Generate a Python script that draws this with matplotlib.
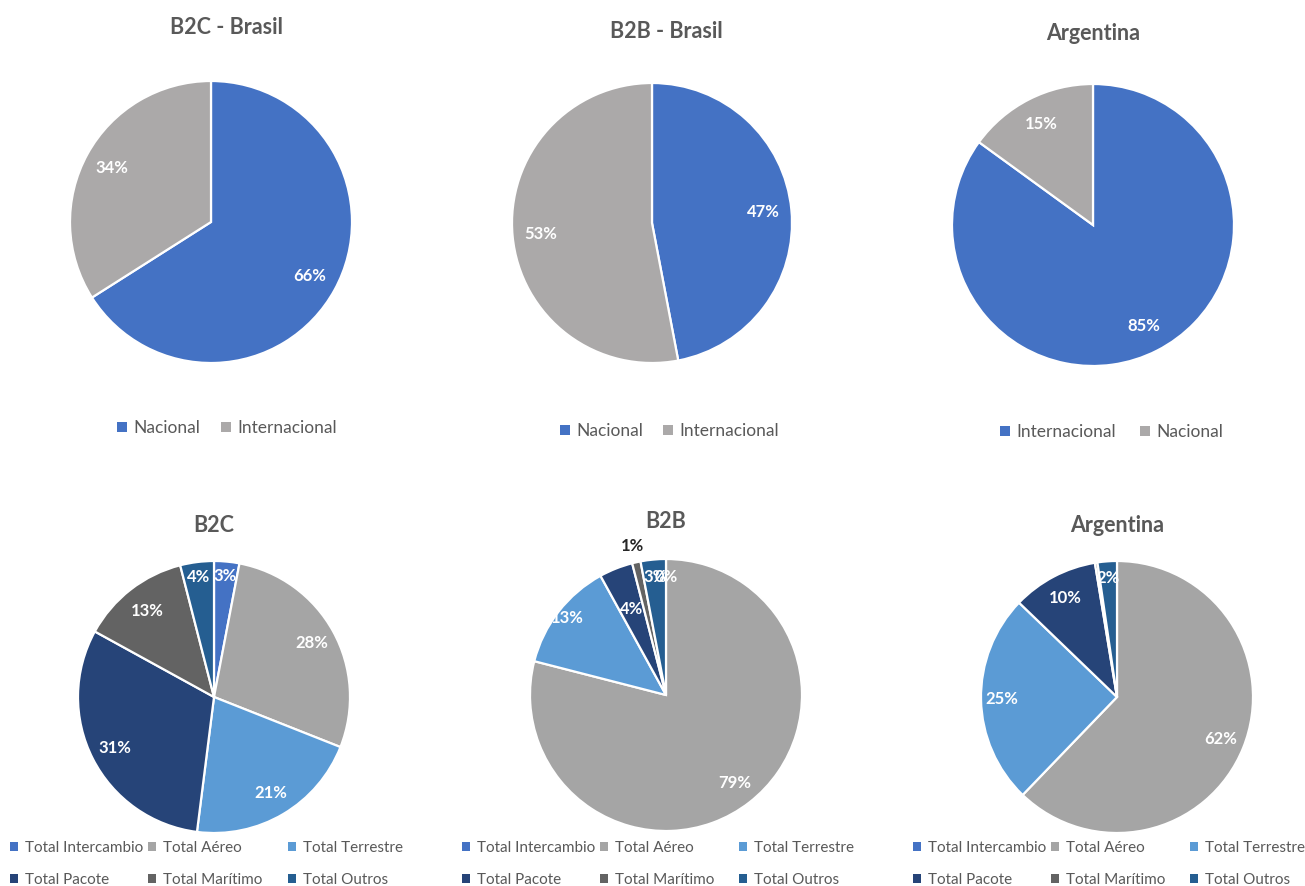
import matplotlib
matplotlib.use("Agg")
import matplotlib.pyplot as plt
import numpy as np
from matplotlib.patches import Patch

plt.rcParams["font.family"] = ["Lato", "DejaVu Sans"]

W, H = 1305, 886

# ---------------------------------------------------------------------------
# Data
# ---------------------------------------------------------------------------

TOP_TITLES = ["B2C - Brasil", "B2B - Brasil", "Argentina"]
TOP_LABELS = [
    ["Nacional", "Internacional"],
    ["Nacional", "Internacional"],
    ["Internacional", "Nacional"],
]
TOP_VALUES = [
    [66, 34],
    [47, 53],
    [85, 15],
]

BOTTOM_TITLES = ["B2C", "B2B", "Argentina"]
BOTTOM_LABELS = ["Total Intercambio", "Total Aéreo", "Total Terrestre",
                 "Total Pacote", "Total Marítimo", "Total Outros"]
B2C_VALUES = [3, 28, 21, 31, 13, 4]
B2B_VALUES = [0, 79, 13, 4, 1, 3]
ARG_VALUES = [0, 62.2, 25.0, 10.2, 0.3, 2.3]
# which slice percentages are written on the chart
B2C_SHOW = [True, True, True, True, True, True]
B2B_SHOW = [True, True, True, True, True, True]
ARG_SHOW = [False, True, True, True, False, True]

# ---------------------------------------------------------------------------
# Style
# ---------------------------------------------------------------------------

BLUE = "#4472C4"
GRAY = "#ABA9A9"
BOTTOM_COLORS = ["#4472C4", "#A5A5A5", "#5B9BD5", "#264478", "#636363", "#255E91"]
TEXT = "#595959"

TOP_CENTERS = [(211, 222, 141), (652, 223, 140), (1093, 225, 141)]
BOTTOM_CENTERS = [(214, 697, 136), (666, 695, 136), (1117, 697, 136)]

TOP_TITLE_POS = [(226, 28), (666, 31), (1093, 33)]
BOTTOM_TITLE_POS = [(214, 526), (666, 522), (1117, 526)]

TOP_LEGEND_POS = [
    [(117, 428), (221, 428)],
    [(560, 431), (663, 431)],
    [(1000, 432), (1140, 432)],
]
BOTTOM_LEGEND_X = [(10, 148, 288), (462, 600, 739), (913, 1051, 1190)]
BOTTOM_LEGEND_Y = (848, 880)

# label distance (fraction of radius) per slice
TOP_DIST = [[0.8, 0.8], [0.8, 0.8], [0.8, 0.8]]
BOTTOM_DIST = [
    [0.89, 0.82, 0.82, 0.82, 0.8, 0.89],
    [0.87, 0.82, 0.92, 0.68, 1.12, 0.87],
    [0.88, 0.82, 0.85, 0.82, 0.88, 0.88],
]


def px_axes(fig, cx, cy, r):
    ax = fig.add_axes([(cx - r) / W, 1 - (cy + r) / H, 2 * r / W, 2 * r / H])
    return ax


def draw_pie(ax, values, colors, dists, show):
    wedges, _ = ax.pie(
        values, colors=colors, startangle=90, counterclock=False, radius=1,
        wedgeprops=dict(edgecolor="white", linewidth=1.6),
    )
    ax.set_xlim(-1, 1)
    ax.set_ylim(-1, 1)
    ax.set_aspect("equal")
    ax.axis("off")
    total = float(sum(values))
    cum = 0.0
    for i, v in enumerate(values):
        mid = (cum + v / 2) / total * 2 * np.pi
        cum += v
        if not show[i]:
            continue
        d = dists[i]
        x, y = d * np.sin(mid), d * np.cos(mid)
        color = "#262626" if d > 1 else "white"
        ax.text(x, y, f"{v:.0f}%", ha="center", va="center",
                fontsize=12, fontweight="bold", color=color, clip_on=False)
    return wedges


def legend_entry(fig, color, label, x, y, fontsize):
    fig.legend(
        [Patch(facecolor=color, edgecolor="none")], [label],
        loc="center left", bbox_to_anchor=(x / W, 1 - y / H),
        frameon=False, handlelength=0.55, handleheight=0.55,
        handletextpad=0.4, borderpad=0, borderaxespad=0,
        fontsize=fontsize, labelcolor=TEXT,
    )


fig = plt.figure(figsize=(W / 100, H / 100), dpi=100)
fig.patch.set_facecolor("white")

for k in range(3):
    cx, cy, r = TOP_CENTERS[k]
    ax = px_axes(fig, cx, cy, r)
    draw_pie(ax, TOP_VALUES[k], [BLUE, GRAY], TOP_DIST[k], [True, True])
    tx, ty = TOP_TITLE_POS[k]
    fig.text(tx / W, 1 - ty / H, TOP_TITLES[k], ha="center", va="center",
             fontsize=15.5, fontweight="bold", color=TEXT)
    for (lx, ly), lab, col in zip(TOP_LEGEND_POS[k], TOP_LABELS[k], [BLUE, GRAY]):
        legend_entry(fig, col, lab, lx, ly, 12.5)

bottom_values = [B2C_VALUES, B2B_VALUES, ARG_VALUES]
bottom_show = [B2C_SHOW, B2B_SHOW, ARG_SHOW]
for k in range(3):
    cx, cy, r = BOTTOM_CENTERS[k]
    ax = px_axes(fig, cx, cy, r)
    draw_pie(ax, bottom_values[k], BOTTOM_COLORS, BOTTOM_DIST[k], bottom_show[k])
    tx, ty = BOTTOM_TITLE_POS[k]
    fig.text(tx / W, 1 - ty / H, BOTTOM_TITLES[k], ha="center", va="center",
             fontsize=15.5, fontweight="bold", color=TEXT)
    for i, (lab, col) in enumerate(zip(BOTTOM_LABELS, BOTTOM_COLORS)):
        lx = BOTTOM_LEGEND_X[k][i % 3]
        ly = BOTTOM_LEGEND_Y[i // 3]
        legend_entry(fig, col, lab, lx, ly, 11)

fig.savefig("out.png", dpi=100, facecolor="white")
